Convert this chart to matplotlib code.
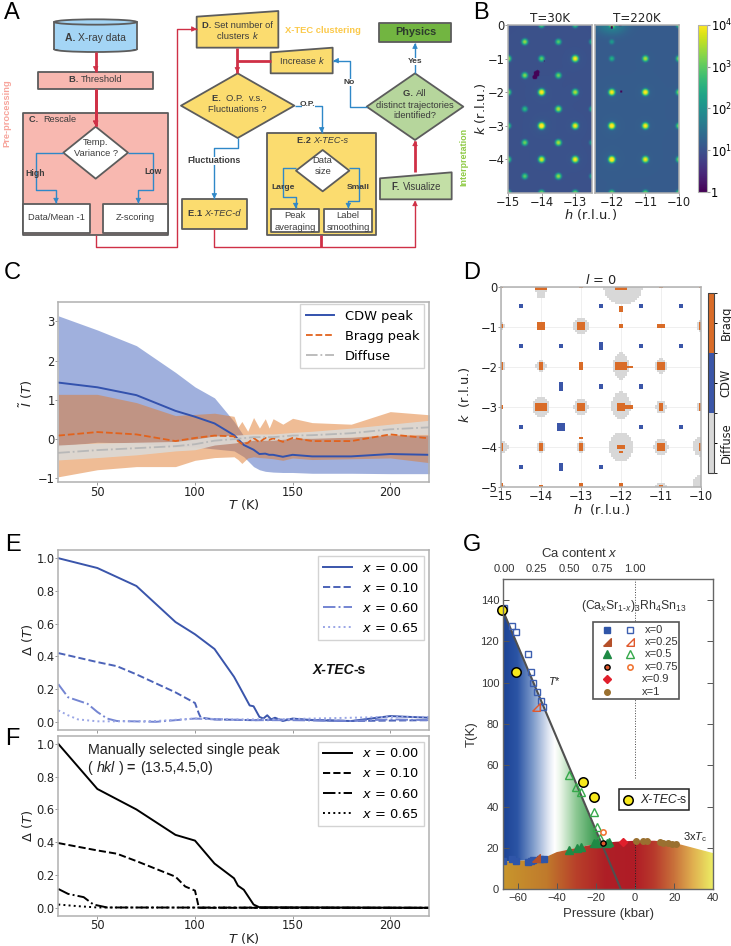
import numpy as np
import matplotlib
matplotlib.use("Agg")
import matplotlib.pyplot as plt
from matplotlib.colors import LogNorm, ListedColormap, LinearSegmentedColormap, BoundaryNorm
from matplotlib.patches import Polygon, Rectangle, Ellipse

W, H = 731, 946
plt.rcParams["font.family"] = "DejaVu Sans"
plt.rcParams["mathtext.rm"] = "Liberation Sans"
plt.rcParams["mathtext.it"] = "Liberation Sans:italic"
plt.rcParams["mathtext.bf"] = "Liberation Sans:bold"

# ---- panel B data: h, k, peak height
b_left_h = [-14, -13, -15, -14, -13, -15, -14, -13, -15, -14, -13, -15, -14, -13, -15, -14, -13,
            -14.5, -13.5, -12.5, -14.5, -13.5, -14.5, -13.5, -12.5, -14.5, -13.5, -12.5, -14.5, -13.5, -12.5]
b_left_k = [0, 0, -1, -1, -1, -2, -2, -2, -3, -3, -3, -4, -4, -4, -5, -5, -5,
            -.5, -.5, -.5, -1.5, -1.5, -2.5, -2.5, -2.5, -3.5, -3.5, -3.5, -4.5, -4.5, -4.5]
b_left_a = [1000, 750, 3700, 1200, 12000, 2500, 15000, 3700, 1200, 22000, 10000, 2000, 7500, 12000, 2000, 2000, 2000,
            2500, 1000, 370, 2000, 1500, 500, 3700, 370, 1500, 3700, 250, 1000, 2500, 250]
b_right_h = [-12, -10, -12, -11, -10, -12, -11, -10, -12, -11, -10, -12, -11, -10, -12, -11, -10, -12, -11.95]
b_right_k = [0, 0, -1, -1, -1, -2, -2, -2, -3, -3, -3, -4, -4, -4, -5, -5, -5, -.5, -.05]
b_right_a = [3700, 1200, 370, 3700, 2500, 12000, 15000, 2500, 20000, 12000, 2000, 22000, 10000, 2000, 2000, 2000, 2000, 150, 300]
b_holes_h = [-14.15, -14.12, -14.2, -13.92, -11.72, -12.0, -11.75]
b_holes_k = [-1.45, -1.4, -1.55, -1.07, -1.98, -0.07, 0.0]
b_holes_r = [0.09, 0.06, 0.07, 0.02, 0.03, 0.04, 0.04]

# ---- panel C data
c_T = [30, 50, 70, 90, 100, 110, 120, 125, 130, 133, 136, 138, 140, 145, 150, 160, 180, 200, 220]
cdw_mean = [1.44, 1.32, 1.12, .72, .57, .40, .10, -.15, -.27, -.38, -.37, -.40, -.40, -.45, -.40, -.44, -.44, -.38, -.40]
cdw_up = [3.14, 2.78, 2.38, 1.70, 1.33, 1.05, .45, .08, .02, -.02, .0, .02, .03, .03, .08, .05, .05, .1, .1]
cdw_low = [-.18, -.08, -.10, -.20, -.20, -.25, -.30, -.45, -.70, -.78, -.82, -.83, -.84, -.85, -.85, -.87, -.87, -.88, -.88]
bragg_T = [30, 50, 70, 90, 100, 110, 120, 122, 124, 127, 130, 133, 136, 138, 140, 145, 150, 160, 180, 200, 220]
bragg_mean = [.09, .18, .12, -.05, .03, .09, .07, -.05, -.12, -.10, .03, -.08, .03, -.02, .02, -.07, .03, -.05, -.05, .12, .02]
bragg_up = [1.14, 1.14, .93, .60, .63, .66, .58, .30, .45, .20, .55, .28, .52, .28, .52, .38, .53, .42, .38, .70, .62]
bragg_low = [-.96, -.78, -.70, -.70, -.54, -.47, -.45, -.52, -.62, -.48, -.45, -.47, -.48, -.49, -.50, -.54, -.48, -.52, -.50, -.48, -.60]
diff_T = [30, 50, 70, 90, 100, 110, 120, 130, 140, 150, 160, 180, 200, 220]
diff_mean = [-.35, -.28, -.23, -.18, -.13, -.04, 0, .05, .05, .09, .10, .15, .25, .30]
diff_up = [-.15, -.10, -.08, -.06, 0, .08, .10, .13, .13, .17, .20, .28, .38, .48]
diff_low = [-.53, -.47, -.40, -.30, -.27, -.15, -.10, -.03, -.03, .02, .02, .05, .12, .12]

# ---- panel D data: centre h, centre k, half width, half height
d_bragg_h = [-15, -14, -13, -12, -11, -10, -15, -14, -13, -12, -11, -10, -15, -14, -13, -12, -11, -15, -14, -13, -12, -11, -10,
             -15, -14, -13, -12, -11, -10, -15, -14, -13, -12, -11, -12, -11.8, -11.8, -13, -12]
d_bragg_k = [0, 0, 0, 0, 0, 0, -1, -1, -1, -1, -1, -1, -2, -2, -2, -2, -2, -3, -3, -3, -3, -3, -3,
             -4, -4, -4, -4, -4, -4, -5, -5, -5, -5, -5, -0.58, -2.03, -3.0, -3.78, -4.12]
d_bragg_w = [.03, .14, .05, .14, .05, .03, .05, .08, .1, .05, .08, .05, .05, .06, .05, .12, .08, .06, .12, .1, .1, .05, .05,
             .06, .06, .06, .08, .1, .06, .05, .05, .05, .05, .05, .03, .08, .08, .05, .05]
d_bragg_v = [.04, .07, .04, .08, .04, .04, .05, .07, .1, .05, .05, .07, .07, .08, .07, .08, .07, .05, .09, .09, .07, .07, .07,
             .08, .07, .08, .06, .09, .08, .07, .06, .07, .07, .05, .06, .03, .03, .02, .03]
d_cdw_h = [-14.5, -13.5, -12.5, -11.5, -10.5, -14.5, -13.5, -12.5, -11.5, -10.5, -14.5, -13.5, -12.5, -11.5, -10.5,
           -14.5, -13.5, -12.5, -11.5, -10.5, -14.5, -13.5, -12.5, -11.5, -10.5]
d_cdw_k = [-.5] * 5 + [-1.5] * 5 + [-2.5] * 5 + [-3.5] * 5 + [-4.5] * 5
d_cdw_w = [.05, .05, .05, .05, .05, .05, .05, .05, .05, .05, .02, .05, .05, .05, .02, .05, .1, .02, .05, .05, .05, .05, .05, .05, .04]
d_cdw_v = [.07, .02, .07, .05, .07, .07, .05, .08, .05, .04, .02, .08, .05, .05, .02, .05, .1, .02, .07, .05, .03, .08, .05, .02, .02]
d_diff_h = [-14, -11.95, -15, -13, -10, -15, -14, -12, -11, -14, -13, -12, -11, -10, -15, -14, -13, -12, -11, -10, -11, -10, -15, -10]
d_diff_k = [-.05, -.05, -1, -1, -1, -2, -2, -2, -2, -3, -3, -2.97, -3, -3, -4, -4, -4, -4, -4, -3.98, -5, -4.9, -5, -3]
d_diff_w = [.13, .48, .1, .2, .12, .1, .13, .2, .14, .22, .18, .24, .13, .1, .18, .12, .12, .3, .18, .2, .15, .22, .08, .1]
d_diff_v = [.28, .42, .1, .22, .15, .12, .13, .33, .2, .25, .2, .35, .17, .12, .17, .13, .13, .36, .2, .25, .12, .2, .08, .12]

# ---- panel E data
e0_T = [30, 50, 70, 80, 90, 100, 110, 120, 123, 128, 130, 133, 135, 137, 139, 141, 145, 150, 160, 180, 200, 220]
e0 = [1, .94, .83, .72, .61, .535, .445, .275, .21, .10, .095, .03, .02, .04, .015, .025, .005, .02, .01, .005, .035, .025]
e1_T = [30, 50, 60, 70, 90, 100, 102, 103, 110, 130, 150, 180, 220]
e1 = [.42, .365, .34, .29, .18, .115, .05, .025, .015, .01, .015, .005, .01]
e2_T = [30, 35, 45, 50, 55, 60, 80, 90, 100, 110, 130, 150, 180, 200, 220]
e2 = [.23, .15, .11, .06, .02, .005, 0, .01, .02, .015, .01, .01, .005, .015, .01]
e3_T = [30, 35, 40, 50, 60, 80, 100, 120, 140, 160, 180, 200, 220]
e3 = [.07, .04, .015, .003, .003, .005, .02, .015, .015, .02, .025, .03, .03]

# ---- panel F data
f0_T = [30, 50, 70, 90, 100, 110, 120, 122, 125, 130, 133, 220]
f0 = [1, .725, .6, .445, .41, .27, .18, .135, .11, .02, .003, 0]
f1_T = [30, 50, 60, 70, 90, 95, 100, 102, 220]
f1 = [.395, .35, .33, .285, .19, .13, .105, 0, 0]
f2_T = [30, 35, 43, 48, 55, 220]
f2 = [.115, .085, .065, .02, .002, 0]
f3_T = [30, 40, 50, 220]
f3 = [.02, .01, .002, 0]

# ---- panel G data
dome_p = [-67.3, -55, -47, -40, -30, -20, -10, 0, 10, 20, 30, 40]
dome_t = [13.5, 14, 15, 18, 20, 22, 23, 23.5, 23.5, 22.5, 20, 17.5]
tstar_p = [-68, -7.2]
tstar_t = [136, 0]
yellow_p = [-68.2, -61, -26.4, -21]
yellow_t = [135, 105, 51.8, 44.5]
sq_open_p = [-66.8, -63, -61, -54.5, -53.2, -52.3, -50, -48.2, -46.9]
sq_open_t = [136, 127.6, 124.4, 113.7, 105, 100, 95.3, 91, 88]
sq_fill_p = [-67.3, -63, -61, -54.5, -53, -52, -48.6, -46.5]
sq_fill_t = [13.9, 14.7, 13.7, 13.4, 13.9, 14.2, 14.5, 14.8]
tri_open_p = [-33.6, -29.9, -27.6, -20.8, -19.6, -18]
tri_open_t = [55.3, 49.7, 47, 37.3, 30.3, 24.7]
tri_fill_p = [-33.6, -29.5, -27.6, -20.8, -19.6, -14.5, -13.2]
tri_fill_t = [19, 19.8, 20.6, 22.3, 22.6, 22.5, 22.7]
brown_p = [0.3, 3.9, 6.3, 12.7, 14.4, 17, 18.7, 20.8]
brown_t = [23.4, 23.5, 23.2, 22.9, 22.6, 22.3, 22, 21.8]
ca_ticks = [0.00, 0.25, 0.50, 0.75, 1.00]
ca_pos = [-66.8, -50.2, -33.6, -16.7, 0]


fig = plt.figure(figsize=(W / 100, H / 100), dpi=100)


def ax_px(x0, y0, x1, y1, **kw):
    return fig.add_axes([x0 / W, 1 - y1 / H, (x1 - x0) / W, (y1 - y0) / H], **kw)


def grey_frame(ax, fs=8.3):
    for s in ax.spines.values():
        s.set_color("#b0b0b0")
        s.set_linewidth(1.1)
    ax.tick_params(labelsize=fs, length=2, width=.7, color="#999999", pad=0.5, labelcolor="#222222")


# overlay in pixel coordinates for the flow chart and letters
ov = fig.add_axes([0, 0, 1, 1], zorder=10)
ov.set_xlim(0, W)
ov.set_ylim(H, 0)
ov.axis("off")
ov.patch.set_alpha(0)
flow_scale = 0.87


def rich(x, y, parts, size=7.6, color="#3c3c3c", ha="center"):
    # several runs of text on one line; zoom coordinates are pixel * 3
    rend = fig.canvas.get_renderer()
    arts = []
    for s, st, wt in parts:
        arts.append(ov.text(0, y / 3, s, fontsize=size * flow_scale, family="Liberation Sans", style=st, weight=wt,
                            color=color, va="center", ha="left"))
    widths = [a.get_window_extent(rend).width for a in arts]
    cur = x / 3 - (sum(widths) / 2 if ha == "center" else 0)
    for a, w in zip(arts, widths):
        a.set_x(cur)
        cur += w


N, I, B = "normal", "italic", "bold"


def node(pts, fc, ec="#5c5c5c", lw=1.3):
    ov.add_patch(Polygon(np.array(pts, float) / 3, closed=True, fc=fc, ec=ec, lw=lw, joinstyle="round"))


def box(x0, y0, x1, y1, fc, **kw):
    node([(x0, y0), (x1, y0), (x1, y1), (x0, y1)], fc, **kw)


def diamond(cx, cy, hw, hh, fc):
    node([(cx - hw, cy), (cx, cy - hh), (cx + hw, cy), (cx, cy + hh)], fc)


def wire(pts, color, lw=1.0, head=True):
    p = np.array(pts, float) / 3
    ov.plot(p[:, 0], p[:, 1], color=color, lw=lw, solid_capstyle="butt", solid_joinstyle="round")
    if head:
        ov.annotate("", xy=p[-1], xytext=p[-1] - (p[-1] - p[-2]) / np.linalg.norm(p[-1] - p[-2]) * 5,
                    arrowprops=dict(arrowstyle="-|>,head_width=0.16,head_length=0.3", color=color, lw=.6,
                                    shrinkA=0, shrinkB=0))


RED, BLU = "#cf3046", "#2f88c8"
YEL, PINK, GRN = "#fbdc6f", "#f8b8b0", "#c3dfa6"

# red wires under the boxes
wire([(287, 155), (287, 215)], RED, 2.0)
wire([(287, 267), (287, 378)], RED, 2.0)
wire([(287, 705), (287, 740), (532, 740), (532, 87), (590, 87)], RED, 1.0)
wire([(641, 687), (641, 740), (1245, 740), (1245, 602)], RED, 1.0)
wire([(963, 705), (963, 740)], RED, 2.0, head=False)
wire([(712, 143), (712, 218)], RED, 2.0)
wire([(812, 182), (712, 182)], RED, 2.0, head=False)
wire([(1245, 517), (1245, 422)], RED, 2.0)

# A cylinder
ov.add_patch(Rectangle((163 / 3, 66 / 3), 247 / 3, 82 / 3, fc="#a4d5f5", ec="none"))
ov.plot([163 / 3, 163 / 3], [66 / 3, 148 / 3], color="#5c5c5c", lw=1.3)
ov.plot([410 / 3, 410 / 3], [66 / 3, 148 / 3], color="#5c5c5c", lw=1.3)
ov.add_patch(Ellipse((286.5 / 3, 148 / 3), 247 / 3, 16 / 3, fc="#a4d5f5", ec="#5c5c5c", lw=1.3))
ov.add_patch(Rectangle((165 / 3, 125 / 3), 243 / 3, 23 / 3, fc="#a4d5f5", ec="none"))
ov.add_patch(Ellipse((286.5 / 3, 66 / 3), 247 / 3, 16 / 3, fc="#a4d5f5", ec="#5c5c5c", lw=1.3))
rich(287, 113, [("A. ", N, B), ("X-ray data", N, N)], 8.6)

box(115, 215, 460, 267, PINK)
rich(287, 240, [("B. ", N, B), ("Threshold", N, N)], 7.8)
box(70, 340, 505, 705, PINK)
rich(88, 358, [("C.  ", N, B), ("Rescale", N, N)], 7.6, ha="left")

wire([(287, 267), (287, 378)], RED, 2.0)
wire([(190, 458), (107, 458), (107, 570), (168, 570), (168, 610)], BLU, 1.0)
wire([(385, 458), (460, 458), (460, 570), (415, 570), (415, 610)], BLU, 1.0)
diamond(287, 458, 97, 78, "white")
rich(287, 428, [("Temp.", N, N)], 7.8)
rich(287, 462, [("Variance ?", N, N)], 7.8)
rich(105, 522, [("High", N, B)], 7.2)
rich(460, 516, [("Low", N, B)], 7.2)
box(70, 613, 270, 698, "white")
box(310, 613, 505, 698, "white")
rich(170, 653, [("Data/Mean -1", N, N)], 7.8)
rich(407, 653, [("Z-scoring", N, N)], 7.8)

node([(590, 50), (835, 33), (835, 143), (590, 143)], YEL)
rich(712, 76, [("D. ", N, B), ("Set number of", N, N)], 7.8)
rich(712, 110, [("clusters ", N, N), ("k", I, N)], 7.8)
rich(968, 92, [("X-TEC clustering", N, B)], 7.8, color="#fbc94a")
node([(812, 157), (998, 143), (998, 220), (812, 220)], YEL)
rich(905, 184, [("Increase ", N, N), ("k", I, N)], 7.8)

wire([(885, 317), (965, 317), (965, 398)], BLU, 1.0)
wire([(713, 415), (713, 445), (643, 445), (643, 596)], BLU, 1.0)
diamond(713, 317, 170, 97, YEL)
rich(713, 295, [("E.  ", N, B), ("O.P.  v.s.", N, N)], 7.8)
rich(713, 329, [("Fluctuations ?", N, N)], 7.8)
ov.add_patch(Rectangle((905 / 3, 305 / 3), 40 / 3, 22 / 3, fc="white", ec="none", zorder=3))
ov.text(923 / 3, 315 / 3, "O.P.", fontsize=6.0, family="Liberation Sans", weight="bold", color="#3c3c3c",
        ha="center", va="center", zorder=4)
ov.add_patch(Rectangle((565 / 3, 470 / 3), 155 / 3, 24 / 3, fc="white", ec="none", zorder=3))
ov.text(643 / 3, 482 / 3, "Fluctuations", fontsize=6.4, family="Liberation Sans", weight="bold", color="#3c3c3c",
        ha="center", va="center", zorder=4)

box(545, 598, 740, 687, YEL)
rich(643, 640, [("E.1 ", N, B), ("X-TEC-d", I, N)], 7.8)
box(800, 400, 1127, 705, YEL)
rich(968, 422, [("E.2 ", N, B), ("X-TEC-s", I, N)], 7.6)
wire([(888, 505), (850, 505), (850, 590), (887, 590), (887, 625)], BLU, 1.0)
wire([(1048, 505), (1076, 505), (1076, 603), (1045, 603), (1045, 625)], BLU, 1.0)
diamond(968, 512, 80, 62, "white")
rich(968, 482, [("Data", N, N)], 7.8)
rich(968, 516, [("size", N, N)], 7.8)
rich(850, 562, [("Large", N, B)], 7.0)
rich(1076, 562, [("Small", N, B)], 7.0)
box(813, 628, 958, 697, "white")
box(973, 628, 1117, 697, "white")
rich(885, 647, [("Peak", N, N)], 7.8)
rich(885, 681, [("averaging", N, N)], 7.8)
rich(1044, 647, [("Label", N, N)], 7.8)
rich(1044, 681, [("smoothing", N, N)], 7.8)

node([(1140, 535), (1355, 517), (1355, 598), (1140, 598)], GRN)
rich(1250, 560, [("F. ", N, B), ("Visualize", N, N)], 8.0)
wire([(1245, 220), (1245, 130)], BLU, 1.0)
wire([(1100, 320), (1050, 320), (1050, 182), (1000, 182)], BLU, 1.0)
diamond(1245, 320, 145, 100, "#b6d69c")
rich(1245, 282, [("G. ", N, B), ("All", N, N)], 7.8)
rich(1245, 315, [("distinct trajectories", N, N)], 7.8)
rich(1245, 348, [("identified?", N, N)], 7.8)
box(1137, 68, 1353, 127, "#72b541")
rich(1248, 95, [("Physics", N, B)], 9.0, color="#2d3b2d")
ov.add_patch(Rectangle((1222 / 3, 174 / 3), 46 / 3, 22 / 3, fc="white", ec="none", zorder=3))
ov.text(1245 / 3, 185 / 3, "Yes", fontsize=6.0, family="Liberation Sans", weight="bold", color="#3c3c3c",
        ha="center", va="center", zorder=4)
ov.add_patch(Rectangle((1030 / 3, 237 / 3), 38 / 3, 22 / 3, fc="white", ec="none", zorder=3))
ov.text(1048 / 3, 248 / 3, "No", fontsize=6.0, family="Liberation Sans", weight="bold", color="#3c3c3c",
        ha="center", va="center", zorder=4)
ov.text(22 / 3, 340 / 3, "Pre-processing", fontsize=6.7, family="Liberation Sans", weight="bold", color="#f7a49b",
        rotation=90, ha="center", va="center")
ov.text(464, 157, "Interpretation", fontsize=6.4, family="Liberation Sans", weight="bold", color="#8fca45",
        rotation=90, ha="center", va="center")

for letter, lx, ly in [("A", 4, 13), ("B", 473, 13), ("C", 4, 273), ("D", 463, 273), ("E", 5, 545),
                       ("F", 5, 739), ("G", 463, 545)]:
    ov.text(lx, ly, letter, fontsize=17, family="Liberation Sans", color="black", ha="left", va="center")

flow_scale = 1.0

# ---- panel B
hb = np.arange(-15, -9.99, 0.02)
kb = np.arange(-5, 0.001, 0.02)
gh, gk = np.meshgrid(hb, kb)


def peak_image(hs, ks, amps, bg):
    img = np.full(gh.shape, float(bg))
    for h0, k0, a in zip(hs, ks, amps):
        r2 = (gh - h0) ** 2 + (gk - k0) ** 2
        img += a * np.exp(-r2 / (2 * 0.035 ** 2)) + a * 0.001 / (1 + r2 / 0.004)
    return img


img_l = peak_image(b_left_h, b_left_k, b_left_a, 9.5)
img_r = peak_image(b_right_h, b_right_k, b_right_a, 14)
img_r += 45 * np.exp(-((gh + 12) ** 2 / 0.12 + gk ** 2 / 0.05))
for h0, k0, r in zip(b_holes_h, b_holes_k, b_holes_r):
    hole = (gh - h0) ** 2 + (gk - k0) ** 2 < r ** 2
    img_l[hole] = 1.1
    img_r[hole] = 1.1

norm = LogNorm(1, 1e4)
ax_b1 = ax_px(508.3, 25, 592, 192.7)
ax_b2 = ax_px(595, 25, 679, 192.7)
for a, img, xl in [(ax_b1, img_l, (-15, -12.5)), (ax_b2, img_r, (-12.5, -10))]:
    im = a.imshow(img, origin="lower", extent=[-15.01, -9.99, -5.01, 0.01], cmap="viridis", norm=norm,
                  aspect="auto", interpolation="bilinear")
    a.set_xlim(*xl)
    a.set_ylim(-5, 0)
    grey_frame(a)
ax_b1.set_xticks([-15, -14, -13])
ax_b1.set_yticks([0, -1, -2, -3, -4])
ax_b2.set_xticks([-12, -11, -10])
ax_b2.set_yticks([])
ax_b1.set_title("T=30K", fontsize=8.6, pad=1.5, color="#222222")
ax_b2.set_title("T=220K", fontsize=8.6, pad=1.5, color="#222222")
ax_b1.set_ylabel(r"$k$ (r.l.u.)", fontsize=9.4, color="#222222")
ax_b1.yaxis.set_label_coords(-0.24, 0.5)
ov.text(591, 214, r"$h$ (r.l.u.)", fontsize=9.4, ha="center", va="center", color="#222222")
cax_b = ax_px(697.7, 25, 706.7, 192)
cb = fig.colorbar(im, cax=cax_b)
cb.set_ticks([1, 10, 100, 1000, 10000])
cb.set_ticklabels(["1", "$10^1$", "$10^2$", "$10^3$", "$10^4$"])
cb.minorticks_off()
cb.ax.tick_params(labelsize=8.3, length=2, pad=1, color="#999999")
cb.outline.set_edgecolor("#b0b0b0")

# ---- panel C
ax_c = ax_px(58.3, 301.7, 429.3, 482.3)
ax_c.fill_between(c_T, cdw_low, cdw_up, color="#4263bd", alpha=.5, lw=0)
ax_c.fill_between(bragg_T, bragg_low, bragg_up, color="#e07a2c", alpha=.5, lw=0)
ax_c.fill_between(diff_T, diff_low, diff_up, color="#dcdad6", alpha=.9, lw=0)
ax_c.plot(c_T, cdw_mean, color="#3352ad", lw=1.4, label="CDW peak")
ax_c.plot(bragg_T, bragg_mean, color="#e2621c", lw=1.3, ls="--", label="Bragg peak")
ax_c.plot(diff_T, diff_mean, color="#b8b8b8", lw=1.3, ls="-.", label="Diffuse")
ax_c.set_xlim(30, 220)
ax_c.set_ylim(-1.1, 3.5)
ax_c.set_xticks([50, 100, 150, 200])
ax_c.set_yticks([-1, 0, 1, 2, 3])
grey_frame(ax_c)
ax_c.set_xlabel(r"$T$ (K)", fontsize=9.4, labelpad=-1, color="#222222")
ax_c.set_ylabel(r"$\tilde{I}$ ($T$)", fontsize=9.4, color="#222222")
ax_c.yaxis.set_label_coords(-0.063, 0.49)
ax_c.legend(loc="upper right", fontsize=9.4, frameon=True, bbox_to_anchor=(0.987, 0.985), borderaxespad=0,
            handlelength=2.2, labelspacing=.55, fancybox=False, framealpha=.85)

# ---- panel D
hh_c = (np.arange(100) + .5) * .05 - 15
kk_c = (np.arange(100) + .5) * .05 - 5
g_h, g_k = np.meshgrid(hh_c, kk_c)
labels = np.zeros(g_h.shape, int)
for h0, k0, w, v in zip(d_diff_h, d_diff_k, d_diff_w, d_diff_v):
    labels[((g_h - h0) / w) ** 2 + ((g_k - k0) / v) ** 2 < 1] = 1
for h0, k0, w, v in zip(d_cdw_h, d_cdw_k, d_cdw_w, d_cdw_v):
    labels[(abs(g_h - h0) <= w + .001) & (abs(g_k - k0) <= v + .001)] = 2
for h0, k0, w, v in zip(d_bragg_h, d_bragg_k, d_bragg_w, d_bragg_v):
    labels[(abs(g_h - h0) <= w + .012) & (abs(g_k - k0) <= v + .012)] = 3
d_cols = ["#ffffff", "#d8d8d8", "#3b56a8", "#d96c28"]
ax_d = ax_px(501.3, 286.7, 701.3, 486.7)
ax_d.imshow(np.ma.masked_equal(labels, 0), origin="lower", extent=[-15, -10, -5, 0], cmap=ListedColormap(d_cols),
            vmin=-.5, vmax=3.5, aspect="auto", interpolation="nearest", zorder=2)
ax_d.set_xticks([-15, -14, -13, -12, -11, -10])
ax_d.set_yticks([0, -1, -2, -3, -4, -5])
ax_d.set_axisbelow(True)
ax_d.grid(color="#e4e4e4", lw=.4)
grey_frame(ax_d)
ax_d.set_title(r"$l$ = 0", fontsize=9.4, pad=1, color="#222222")
ax_d.set_xlabel(r"$h$  (r.l.u.)", fontsize=9.4, labelpad=-1, color="#222222")
ax_d.set_ylabel(r"$k$  (r.l.u.)", fontsize=9.4, color="#222222")
ax_d.yaxis.set_label_coords(-0.145, 0.46)
cax_d = ax_px(707.7, 293, 714, 473)
cm_d = ListedColormap(d_cols[1:])
sm = plt.cm.ScalarMappable(norm=BoundaryNorm([0, 1, 2, 3], 3), cmap=cm_d)
cb_d = fig.colorbar(sm, cax=cax_d)
cb_d.set_ticks([.5, 1.5, 2.5])
cb_d.set_ticklabels(["Diffuse", "CDW", "Bragg"], rotation=90, va="center", fontsize=8.3, color="#222222")
cb_d.ax.tick_params(length=2.5, pad=1.5, width=.7)
cb_d.outline.set_edgecolor("#444444")

# ---- panels E and F
ax_e = ax_px(58.3, 550, 429.3, 730)
blues = ["#3a55ab", "#4c63b8", "#7485d2", "#9aa6e6"]
styles = ["-", "--", "-.", ":"]
names = ["$x$ = 0.00", "$x$ = 0.10", "$x$ = 0.60", "$x$ = 0.65"]
for t, v, c, s, n in zip([e0_T, e1_T, e2_T, e3_T], [e0, e1, e2, e3], blues, styles, names):
    ax_e.plot(t, v, color=c, ls=s, lw=1.4, label=n)
ax_f = ax_px(58.3, 735.7, 429.3, 916)
for t, v, s, n in zip([f0_T, f1_T, f2_T, f3_T], [f0, f1, f2, f3], styles, names):
    ax_f.plot(t, v, color="black", ls=s, lw=1.4, label=n)
for a in (ax_e, ax_f):
    a.set_xlim(30, 220)
    a.set_ylim(-0.05, 1.05)
    a.set_xticks([50, 100, 150, 200])
    a.set_yticks([0, .2, .4, .6, .8, 1.0])
    grey_frame(a)
    a.set_ylabel(r"$\Delta$ ($T$)", fontsize=9.4, color="#222222")
    a.yaxis.set_label_coords(-0.063, 0.5)
    a.legend(loc="upper right", fontsize=9.4, bbox_to_anchor=(0.987, 0.965), borderaxespad=0, handlelength=2.2,
             labelspacing=.55, fancybox=False, framealpha=.85)
ax_e.tick_params(labelbottom=False)
ax_f.set_xlabel(r"$T$ (K)", fontsize=9.4, labelpad=-1, color="#222222")

rich(937, 2010, [("X-TEC", I, B), ("-s", N, B)], 10, color="#111111", ha="left")
rich(263, 2250, [("Manually selected single peak", N, N)], 10.3, color="#222222", ha="left")
rich(263, 2304, [("( ", N, N), ("hkl", I, N), (" ) ", N, N), ("= ", N, B), ("(13.5,4.5,0)", N, N)], 10.3,
     color="#222222", ha="left")

# ---- panel G
ax_g = ax_px(503.3, 579.3, 713.3, 889.3)
xl_g = (-67.3, 40)
ax_g.set_xlim(*xl_g)
ax_g.set_ylim(0, 150)
t_stops = [(-67.3, "#1c4395"), (-60, "#2c55a5"), (-52, "#7f9ccb"), (-44, "#e2e8f3"), (-41, "#ffffff"),
           (-38, "#e8f4e6"), (-30, "#8cc893"), (-20, "#3a9a50"), (-15, "#2a9048")]
d_stops = [(-67.3, "#c8962c"), (-45, "#c07a2c"), (-30, "#b8402a"), (-15, "#ae1f26"), (0, "#b01c26"),
           (10, "#b83a2c"), (20, "#c8703a"), (30, "#e0b050"), (40, "#ecec64")]


def gradient(stops, poly):
    p0, p1 = stops[0][0], stops[-1][0]
    cm = LinearSegmentedColormap.from_list("g", [((p - p0) / (p1 - p0), c) for p, c in stops])
    im_g = ax_g.imshow(np.linspace(0, 1, 256)[None, :], extent=[p0, p1, 0, 150], aspect="auto", cmap=cm,
                       origin="lower", zorder=1)
    patch = Polygon(poly, closed=True, transform=ax_g.transData, fc="none", ec="none")
    ax_g.add_patch(patch)
    im_g.set_clip_path(patch)


dome_low = float(np.interp(-17.5, dome_p, dome_t))
gradient(t_stops, [(-67.3, 135)] + [(-17.5, dome_low)] + [(p, t) for p, t in zip(dome_p[:6][::-1], dome_t[:6][::-1])])
gradient(d_stops, [(-67.3, 0)] + list(zip(dome_p, dome_t)) + [(40, 0)])
ax_g.set_xlim(*xl_g)
ax_g.set_ylim(0, 150)
half_tri = [(-1, -1), (1, -1), (1, 1), (-1, -1)]
ax_g.plot([0, 0], [54, 150], color="#444444", lw=.7, ls=":", zorder=2)
ax_g.plot([0, 0], [0, 23], color="#222222", lw=.7, ls=":", zorder=2)
ax_g.plot(tstar_p, tstar_t, color="#505050", lw=1.5, zorder=3)
ax_g.plot(sq_open_p, sq_open_t, "s", mfc="none", mec="#3d5fb0", mew=1, ms=3.8, zorder=4)
ax_g.plot(sq_fill_p, sq_fill_t, "s", color="#2f55a8", mec="#2f55a8", ms=4, zorder=4)
ax_g.plot([-50.8], [88], marker=half_tri, mfc="none", mec="#e0582c", mew=1, ms=5.5, zorder=4)
ax_g.plot([-50.6], [15], marker=half_tri, color="#b5502a", ms=5.5, zorder=4)
ax_g.plot(tri_open_p, tri_open_t, "^", mfc="none", mec="#35a84a", mew=1, ms=5.4, zorder=4)
ax_g.plot(tri_fill_p, tri_fill_t, "^", color="#1f8a45", ms=5.2, zorder=4)
ax_g.plot([-16.6], [27.7], "o", mfc="none", mec="#f07838", mew=1.2, ms=3.8, zorder=4)
ax_g.plot([-16.6], [22.3], "o", mfc="#e0582c", mec="black", mew=1, ms=3.8, zorder=4)
ax_g.plot([-6.3], [23], "D", color="#e01f2c", ms=4.2, zorder=4)
ax_g.plot(brown_p, brown_t, "o", color="#9a7030", ms=4, zorder=4)
ax_g.plot(yellow_p, yellow_t, "o", mfc="#f7e81c", mec="black", mew=1.1, ms=6.8, zorder=5, clip_on=False)
for s in ax_g.spines.values():
    s.set_color("#666666")
    s.set_linewidth(1)
    s.set_zorder(6)
ax_g.set_xticks([-60, -40, -20, 0, 20, 40])
ax_g.set_yticks([0, 20, 40, 60, 80, 100, 120, 140])
ax_g.tick_params(direction="in", labelsize=8, length=4, width=.7, pad=3, color="#555555", right=True,
                 labelcolor="#333333", labelfontfamily="Liberation Sans")
ax_g.set_xlabel("Pressure (kbar)", fontsize=9.5, family="Liberation Sans", labelpad=3, color="#333333")
ax_g.set_ylabel("T(K)", fontsize=9.5, family="Liberation Sans", labelpad=2, color="#333333")
ax_g.text(-41.4, 100.8, "$T$*", fontsize=8, math_fontfamily="custom", family="Liberation Sans", ha="center",
          va="center", color="#222222", zorder=6)
ax_g.text(30.5, 25.2, r"3x$T_{\mathrm{c}}$", fontsize=8, math_fontfamily="custom", family="Liberation Sans",
          ha="center", va="center", color="#222222", zorder=6)
ax_top = ax_g.twiny()
ax_top.set_xlim(*xl_g)
ax_top.set_xticks(ca_pos)
ax_top.set_xticklabels([f"{c:.2f}" for c in ca_ticks], fontsize=8, family="Liberation Sans", color="#333333")
ax_top.tick_params(length=0, pad=4)
for s in ax_top.spines.values():
    s.set_visible(False)
ov.text(579, 553, "Ca content $x$", fontsize=9.5, family="Liberation Sans", math_fontfamily="custom",
        ha="center", va="center", color="#333333")
ov.text(634, 606, r"(Ca$_x$Sr$_{1\text{-}x}$)$_3$Rh$_4$Sn$_{13}$", fontsize=8.8, family="Liberation Sans",
        math_fontfamily="custom", ha="center", va="center", color="#333333")

# G legend
ov.add_patch(Rectangle((593.3, 621.7), 85.4, 77.6, fc="white", ec="#555555", lw=1.2))
rows = [630, 642, 654.3, 666.7, 679, 691.7]
row_names = ["x=0", "x=0.25", "x=0.5", "x=0.75", "x=0.9", "x=1"]
for y, n, tx in zip(rows, row_names, [645, 645, 645, 645, 641.7, 641.7]):
    ov.text(tx, y, n, fontsize=8, family="Liberation Sans", va="center", color="#333333")
ov.plot(607.3, rows[0], "s", color="#2f55a8", ms=4)
ov.plot(630, rows[0], "s", mfc="none", mec="#3d5fb0", mew=1, ms=3.8)
ov.plot(607.3, rows[1], marker=half_tri, color="#b5502a", ms=5.5)
ov.plot(630, rows[1], marker=half_tri, mfc="none", mec="#e0582c", mew=1, ms=5.5)
ov.plot(607.3, rows[2], "^", color="#1f8a45", ms=5.2)
ov.plot(630, rows[2], "^", mfc="none", mec="#35a84a", mew=1, ms=5.4)
ov.plot(607.3, rows[3], "o", mfc="#e0582c", mec="black", mew=1, ms=3.8)
ov.plot(630, rows[3], "o", mfc="none", mec="#f07838", mew=1.2, ms=3.8)
ov.plot(607.3, rows[4], "D", color="#e01f2c", ms=4.2)
ov.plot(607.3, rows[5], "o", color="#9a7030", ms=4)
ov.add_patch(Rectangle((619.3, 789.3), 69.4, 20.7, fc="white", ec="#222222", lw=1.1))
ov.plot(627.7, 800, "o", mfc="#f7e81c", mec="black", mew=1.1, ms=6.8)
rich(1920, 2400, [("X-TEC", I, N), ("-s", N, N)], 8.8, color="#222222", ha="left")

fig.savefig("out.png", dpi=100)
